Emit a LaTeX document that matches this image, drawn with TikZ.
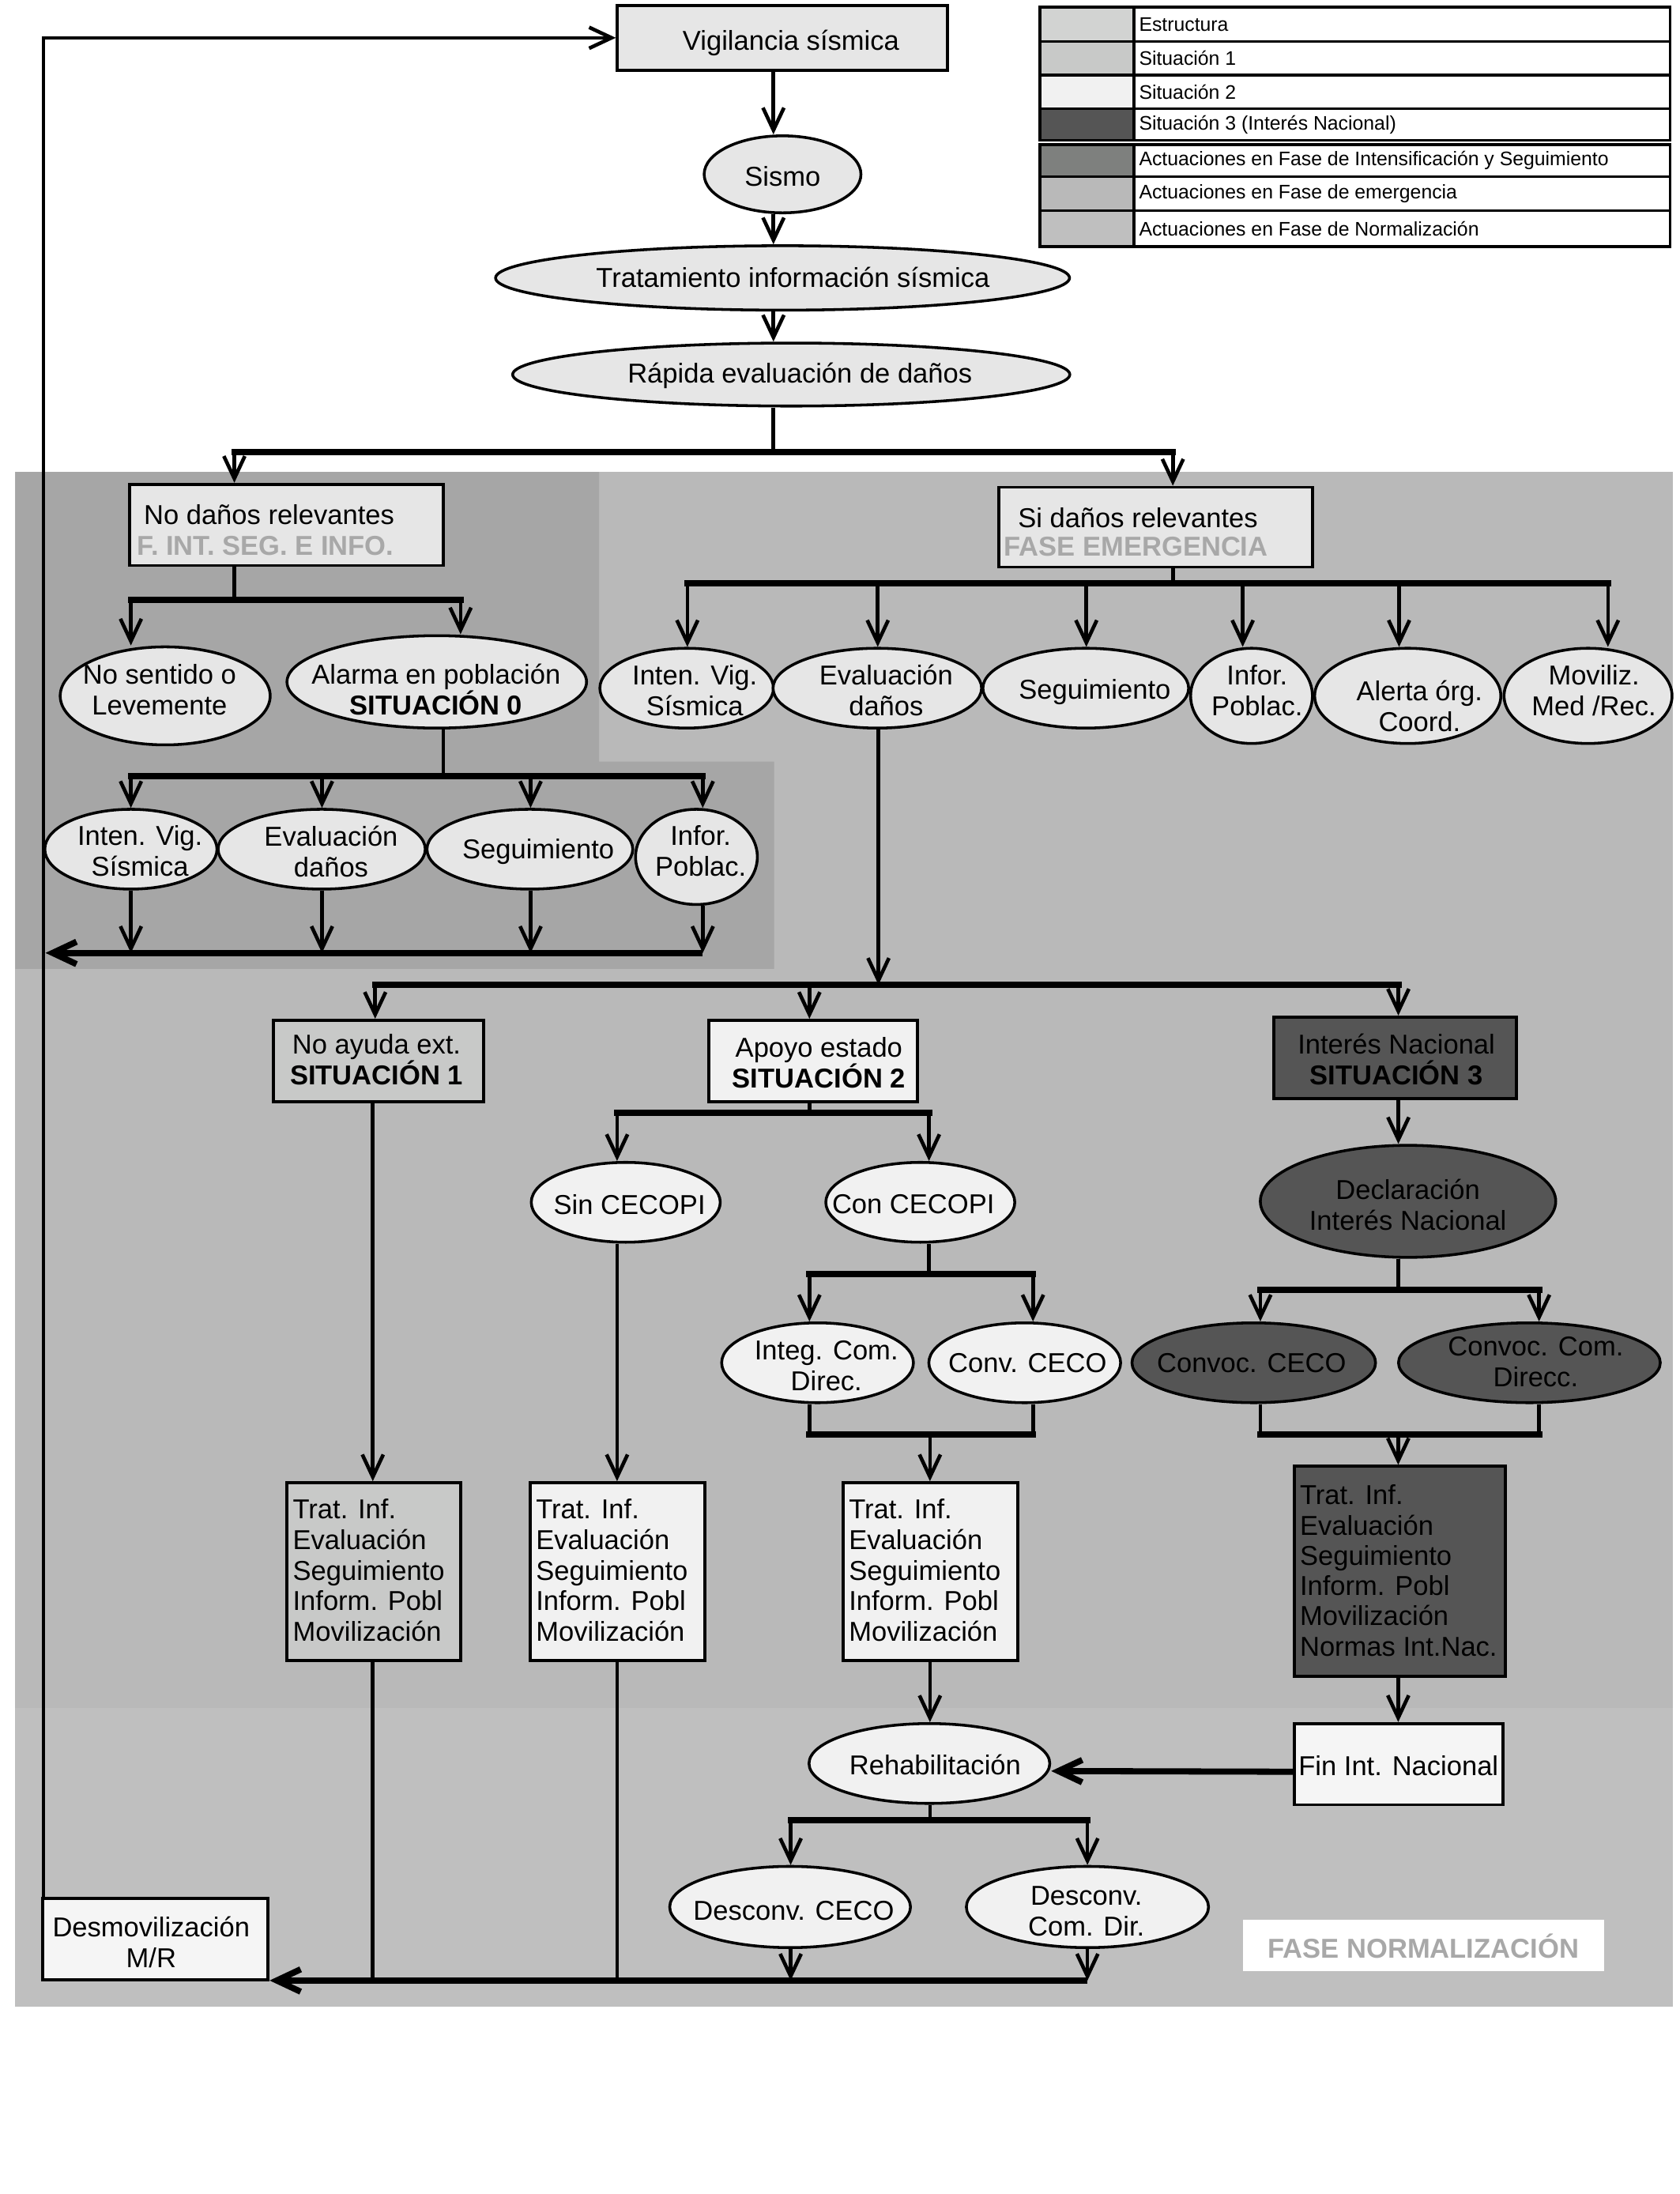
\documentclass[tikz,border=0pt]{standalone}
\usepackage{fontspec}
\setmainfont{Liberation Sans}
\usetikzlibrary{arrows.meta,shapes.geometric}
\definecolor{struc}{HTML}{E6E6E6}
\definecolor{legstruc}{HTML}{D2D3D2}
\definecolor{sitone}{HTML}{C8C9C8}
\definecolor{sittwo}{HTML}{F1F1F1}
\definecolor{sitthree}{HTML}{555555}
\definecolor{intens}{HTML}{7E807E}
\definecolor{emerg}{HTML}{B9B9B9}
\definecolor{normph}{HTML}{BFBFBF}
\definecolor{panint}{HTML}{A6A6A6}
\definecolor{phasetxt}{HTML}{A8A8A8}
\definecolor{offw}{HTML}{F5F5F5}
\begin{document}
\begin{tikzpicture}[x=1pt,y=-1pt,
  box/.style={draw, line width=2.2pt, rectangle, inner sep=0pt},
  ell/.style={draw, line width=2pt, ellipse, inner sep=0pt},
  txt/.style={font=\fontsize{19.5}{22}\selectfont, align=center, inner sep=0pt},
  ltxt/.style={font=\fontsize{19.5}{21.8}\selectfont, align=left, inner sep=0pt, anchor=north west},
  legt/.style={font=\fontsize{14}{16}\selectfont, inner sep=0pt, anchor=west},
  phase/.style={font=\fontsize{19.5}{22}\selectfont\bfseries, text=phasetxt, inner sep=0pt, anchor=west},
  conn/.style={line width=2.6pt},
  bar/.style={line width=4.4pt, line cap=rect},
  arr/.style={line width=2.6pt, -{Straight Barb[length=16pt,width=15pt]}},
  bararr/.style={line width=4.4pt, -{Straight Barb[length=17pt,width=16pt]}},
]
\useasboundingbox (0,0) rectangle (1200,1567);
\fill[white] (0,0) rectangle (1200,1567);
% phase panels
\fill[emerg] (11,337) rectangle (1195,1220);
\fill[normph] (11,1220) rectangle (1195,1433);
\fill[panint] (11,337) -- (428,337) -- (428,544) -- (553,544) -- (553,692) -- (11,692) -- cycle;

% legend
\foreach \ya/\yb/\col in {5/29.5/legstruc, 29.5/53.6/sitone, 53.6/77.5/sittwo, 77.5/100.2/sitthree, 103.4/126/intens, 126/150.6/emerg, 150.6/176/normph} {
  \filldraw[fill=\col, draw=black, line width=1.8pt] (743,\ya) rectangle (810,\yb);
  \draw[line width=1.8pt] (810,\ya) rectangle (1193,\yb);
}
\draw[line width=2.2pt] (743,5) rectangle (1193,100.2);
\draw[line width=2.2pt] (743,103.4) rectangle (1193,176);
\node[legt] (lg1) at (813.5,17.3) {Estructura};
\node[legt] (lg2) at (813.5,41.5) {Situación 1};
\node[legt] (lg3) at (813.5,65.6) {Situación 2};
\node[legt] (lg4) at (813.5,89) {Situación 3 (Interés Nacional)};
\node[legt] (lg5) at (813.5,114.7) {Actuaciones en Fase de Intensificación y Seguimiento};
\node[legt] (lg6) at (813.5,138.3) {Actuaciones en Fase de emergencia};
\node[legt] (lg7) at (813.5,163.3) {Actuaciones en Fase de Normalización};

% top chain
\node[box, fill=struc, minimum width=236pt, minimum height=46pt] (Vig) at (559,27) {};
\node[txt] (tVig) at (565,30.5) {Vigilancia sísmica};
\node[ell, fill=struc, minimum width=112pt, minimum height=55pt] (Sis) at (559,124.5) {};
\node[txt] (tSis) at (559,126) {Sismo};
\node[ell, fill=struc, minimum width=410pt, minimum height=46pt] (Tra) at (559,198.5) {};
\node[txt] (tTra) at (566.4,198) {Tratamiento información sísmica};
\node[ell, fill=struc, minimum width=398pt, minimum height=45pt] (Rap) at (565.2,267.5) {};
\node[txt] (tRap) at (571.4,268.5) {Rápida evaluación de daños};

% No daños branch
\node[box, fill=struc, minimum width=224pt, minimum height=58pt] (NoD) at (204.8,374.9) {};
\node[txt, anchor=west] (tNoD) at (102.6,367.3) {No daños relevantes};
\node[phase] (pNoD) at (97.9,389.6) {F. INT. SEG. E INFO.};
\node[ell, fill=struc, minimum width=150pt, minimum height=70pt] (NoS) at (118,497) {};
\node[txt] (tNoS) at (114,492.5) {No sentido o\\Levemente};
\node[ell, fill=struc, minimum width=214pt, minimum height=66pt] (Ala) at (312,487) {};
\node[txt] (tAla) at (311.5,492.5) {Alarma en población\\\textbf{SITUACIÓN 0}};
\node[ell, fill=struc, minimum width=123pt, minimum height=57pt] (IVb) at (93.5,606.5) {};
\node[txt] (tIVb) at (100,608) {Inten. Vig.\\Sísmica};
\node[ell, fill=struc, minimum width=148pt, minimum height=57pt] (EVb) at (229.8,606.5) {};
\node[txt] (tEVb) at (236.5,608) {Evaluación\\daños};
\node[ell, fill=struc, minimum width=147pt, minimum height=57pt] (SEb) at (378.5,606.5) {};
\node[txt] (tSEb) at (384.5,608.5) {Seguimiento};
\node[ell, fill=struc, minimum width=87pt, minimum height=68pt] (INb) at (497.5,612) {};
\node[txt] (tINb) at (500.5,608) {Infor.\\Poblac.};

% Si daños branch
\node[box, fill=struc, minimum width=224pt, minimum height=57pt] (SiD) at (825.6,376.5) {};
\node[txt, anchor=west] (tSiD) at (727,369.7) {Si daños relevantes};
\node[phase] (pSiD) at (717,390.4) {FASE EMERGENCIA};
\node[ell, fill=struc, minimum width=124pt, minimum height=57pt] (IVa) at (490.5,491.5) {};
\node[txt] (tIVa) at (496.3,493) {Inten. Vig.\\Sísmica};
\node[ell, fill=struc, minimum width=149pt, minimum height=57pt] (EVa) at (626.7,491.5) {};
\node[txt] (tEVa) at (633,493) {Evaluación\\daños};
\node[ell, fill=struc, minimum width=147pt, minimum height=57pt] (SEa) at (775.6,491.5) {};
\node[txt] (tSEa) at (782,494.5) {Seguimiento};
\node[ell, fill=struc, minimum width=87pt, minimum height=68pt] (INa) at (894,497) {};
\node[txt] (tINa) at (898,493) {Infor.\\Poblac.};
\node[ell, fill=struc, minimum width=133pt, minimum height=68pt] (ALa) at (1005.6,497) {};
\node[txt] (tALa) at (1014,504.3) {Alerta órg.\\Coord.};
\node[ell, fill=struc, minimum width=120pt, minimum height=68pt] (MOa) at (1134.4,497) {};
\node[txt] (tMOa) at (1138.6,493) {Moviliz.\\Med /Rec.};

% situations
\node[box, fill=sitone, minimum width=150pt, minimum height=58pt] (S1) at (270.5,757.7) {};
\node[txt] (tS1) at (269,756.6) {No ayuda ext.\\\textbf{SITUACIÓN 1}};
\node[box, fill=sittwo, minimum width=149pt, minimum height=58pt] (S2) at (581,757.7) {};
\node[txt] (tS2) at (585,759) {Apoyo estado\\\textbf{SITUACIÓN 2}};
\node[box, fill=sitthree, minimum width=173pt, minimum height=58pt] (S3) at (996.5,755.4) {};
\node[txt] (tS3) at (997.5,756.6) {Interés Nacional\\\textbf{SITUACIÓN 3}};

\node[ell, fill=sittwo, minimum width=135pt, minimum height=57pt] (SinC) at (447,858.7) {};
\node[txt] (tSinC) at (449.7,860.3) {Sin CECOPI};
\node[ell, fill=sittwo, minimum width=135pt, minimum height=57pt] (ConC) at (657.4,858.7) {};
\node[txt] (tConC) at (652.4,860.3) {Con CECOPI};
\node[ell, fill=sittwo, minimum width=137pt, minimum height=57pt] (Integ) at (584,973.3) {};
\node[txt] (tInteg) at (590.3,975.4) {Integ. Com.\\Direc.};
\node[ell, fill=sittwo, minimum width=137pt, minimum height=57pt] (ConvC) at (732,973.3) {};
\node[txt] (tConvC) at (734,973.7) {Conv. CECO};

\node[ell, fill=sitthree, minimum width=211pt, minimum height=80pt] (Decl) at (1005.8,858) {};
\node[txt] (tDecl) at (1005.7,860.3) {Declaración\\Interés Nacional};
\node[ell, fill=sitthree, minimum width=174pt, minimum height=57pt] (CvC) at (895.6,973.3) {};
\node[txt] (tCvC) at (894,973.3) {Convoc. CECO};
\node[ell, fill=sitthree, minimum width=187pt, minimum height=57pt] (CvD) at (1092.5,973.3) {};
\node[txt] (tCvD) at (1097,972.6) {Convoc. Com.\\Direcc.};

% treatment boxes
\node[box, fill=sitone, minimum width=124pt, minimum height=127pt] (TA) at (267.1,1122.5) {};
\node[ltxt] (tTA) at (209,1070.5) {Trat. Inf.\\Evaluación\\Seguimiento\\Inform. Pobl\\Movilización};
\node[box, fill=sittwo, minimum width=125pt, minimum height=127pt] (TB) at (441.2,1122.5) {};
\node[ltxt] (tTB) at (382.7,1070.5) {Trat. Inf.\\Evaluación\\Seguimiento\\Inform. Pobl\\Movilización};
\node[box, fill=sittwo, minimum width=125pt, minimum height=127pt] (TC) at (664.7,1122.5) {};
\node[ltxt] (tTC) at (606.2,1070.5) {Trat. Inf.\\Evaluación\\Seguimiento\\Inform. Pobl\\Movilización};
\node[box, fill=sitthree, minimum width=151pt, minimum height=150pt] (TD) at (999.9,1122.3) {};
\node[ltxt, font=\fontsize{19.5}{21.6}\selectfont] (tTD) at (928.4,1060.4) {Trat. Inf.\\Evaluación\\Seguimiento\\Inform. Pobl\\Movilización\\Normas Int.Nac.};

% normalization
\node[ell, fill=sittwo, minimum width=172pt, minimum height=57pt] (Reh) at (663.9,1259.5) {};
\node[txt] (tReh) at (668,1260.4) {Rehabilitación};
\node[box, fill=offw, minimum width=149pt, minimum height=58pt] (Fin) at (999.2,1260) {};
\node[txt] (tFin) at (999,1261) {Fin Int. Nacional};
\node[ell, fill=sittwo, minimum width=172pt, minimum height=58pt] (DsC) at (564.4,1362) {};
\node[txt] (tDsC) at (567,1364.4) {Desconv. CECO};
\node[ell, fill=sittwo, minimum width=173pt, minimum height=58pt] (DsD) at (776.8,1362) {};
\node[txt] (tDsD) at (776,1365.3) {Desconv.\\Com. Dir.};
\node[box, fill=offw, minimum width=161pt, minimum height=58pt] (Dsm) at (111,1385) {};
\node[txt] (tDsm) at (108,1387) {Desmovilización\\M/R};
\node[fill=white, minimum width=258pt, minimum height=36.5pt, inner sep=0pt] (FN) at (1016.8,1389.5) {};
\node[phase, anchor=center] (tFN) at (1016.8,1390) {FASE NORMALIZACIÓN};

% ---------- connectors ----------
\coordinate (fbx) at (31,0);
\draw[arr] (Dsm.north -| fbx) |- (Vig.west);
\coordinate (cT) at (552.5,0);
\draw[arr] (Vig.south -| cT) -- (Sis.north -| cT);
\draw[arr] (Sis.south -| cT) -- (Tra.north -| cT);
\draw[arr] (Tra.south -| cT) -- (Rap.north -| cT);

\coordinate (j1) at (552.5,323);
\coordinate (j1l) at (167.4,323);
\coordinate (j1r) at (837.8,323);
\draw[conn] (Rap.south -| j1) -- (j1);
\draw[bar] (j1l) -- (j1r);
\draw[arr] (j1l) -- (j1l |- NoD.north);
\draw[arr] (j1r) -- (j1r |- SiD.north);

\coordinate (j2) at (167.4,428.5);
\coordinate (j2l) at (93.5,428.5);
\coordinate (j2r) at (329,428.5);
\draw[conn] (NoD.south -| j2) -- (j2);
\draw[bar] (j2l) -- (j2r);
\draw[arr] (j2l) -- (j2l |- NoS.north);
\draw[arr] (j2r) -- (j2r |- Ala.north);

\coordinate (j3) at (316.7,554.5);
\coordinate (j3l) at (93.5,554.5);
\coordinate (j3b) at (230,554.5);
\coordinate (j3c) at (379,554.5);
\coordinate (j3r) at (502,554.5);
\draw[conn] (Ala.south -| j3) -- (j3);
\draw[bar] (j3l) -- (j3r);
\draw[arr] (j3l) -- (j3l |- IVb.north);
\draw[arr] (j3b) -- (j3b |- EVb.north);
\draw[arr] (j3c) -- (j3c |- SEb.north);
\draw[arr] (j3r) -- (j3r |- INb.north);

\coordinate (r0) at (32.5,680.6);
\coordinate (r1) at (93.5,680.6);
\coordinate (r2) at (230,680.6);
\coordinate (r3) at (379,680.6);
\coordinate (r4) at (502,680.6);
\draw[arr] (IVb.south -| r1) -- (r1);
\draw[arr] (EVb.south -| r2) -- (r2);
\draw[arr] (SEb.south -| r3) -- (r3);
\draw[arr] (INb.south -| r4) -- (r4);
\draw[bararr] (r4) -- (r0);

\coordinate (j4) at (837.8,416.6);
\coordinate (j4a) at (491,416.6);
\coordinate (j4b) at (627,416.6);
\coordinate (j4c) at (776,416.6);
\coordinate (j4d) at (887.7,416.6);
\coordinate (j4e) at (999.4,416.6);
\coordinate (j4f) at (1148.6,416.6);
\draw[conn] (SiD.south -| j4) -- (j4);
\draw[bar] (j4a) -- (j4f);
\draw[arr] (j4a) -- (j4a |- IVa.north);
\draw[arr] (j4b) -- (j4b |- EVa.north);
\draw[arr] (j4c) -- (j4c |- SEa.north);
\draw[arr] (j4d) -- (j4d |- INa.north);
\draw[arr] (j4e) -- (j4e |- ALa.north);
\draw[arr] (j4f) -- (j4f |- MOa.north);

\coordinate (j5) at (627.5,703.3);
\coordinate (j5a) at (268,703.3);
\coordinate (j5b) at (578.2,703.3);
\coordinate (j5c) at (998.9,703.3);
\draw[arr] (EVa.south -| j5) -- (j5);
\draw[bar] (j5a) -- (j5c);
\draw[arr] (j5a) -- (j5a |- S1.north);
\draw[arr] (j5b) -- (j5b |- S2.north);
\draw[arr] (j5c) -- (j5c |- S3.north);

\coordinate (j6) at (578.2,795);
\coordinate (j6a) at (440.8,795);
\coordinate (j6b) at (663.6,795);
\draw[conn] (S2.south -| j6) -- (j6);
\draw[bar] (j6a) -- (j6b);
\draw[arr] (j6a) -- (j6a |- SinC.north);
\draw[arr] (j6b) -- (j6b |- ConC.north);

\coordinate (j7) at (663.6,910);
\coordinate (j7a) at (578.2,910);
\coordinate (j7b) at (737.9,910);
\draw[conn] (ConC.south -| j7) -- (j7);
\draw[bar] (j7a) -- (j7b);
\draw[arr] (j7a) -- (j7a |- Integ.north);
\draw[arr] (j7b) -- (j7b |- ConvC.north);

\coordinate (m1a) at (578.2,1024.5);
\coordinate (m1b) at (737.9,1024.5);
\coordinate (m1c) at (664.3,1024.5);
\draw[conn] (Integ.south -| m1a) -- (m1a);
\draw[conn] (ConvC.south -| m1b) -- (m1b);
\draw[bar] (m1a) -- (m1b);
\draw[arr] (m1c) -- (m1c |- TC.north);

\coordinate (k0) at (998.9,0);
\draw[arr] (S3.south -| k0) -- (Decl.north -| k0);
\coordinate (k1) at (998.9,921);
\coordinate (k1a) at (900.3,921);
\coordinate (k1b) at (1099.4,921);
\draw[conn] (Decl.south -| k1) -- (k1);
\draw[bar] (k1a) -- (k1b);
\draw[arr] (k1a) -- (k1a |- CvC.north);
\draw[arr] (k1b) -- (k1b |- CvD.north);
\coordinate (m2a) at (900.3,1024.5);
\coordinate (m2b) at (1099.4,1024.5);
\coordinate (m2c) at (998.8,1024.5);
\draw[conn] (CvC.south -| m2a) -- (m2a);
\draw[conn] (CvD.south -| m2b) -- (m2b);
\draw[bar] (m2a) -- (m2b);
\draw[arr] (m2c) -- (m2c |- TD.north);

\coordinate (xa) at (266.3,0);
\coordinate (xb) at (440.8,0);
\coordinate (xc) at (664.3,0);
\coordinate (xd) at (998.8,0);
\draw[arr] (S1.south -| xa) -- (TA.north -| xa);
\draw[arr] (SinC.south -| xb) -- (TB.north -| xb);
\draw[arr] (TC.south -| xc) -- (Reh.north -| xc);
\draw[arr] (TD.south -| xd) -- (Fin.north -| xd);
\draw[bararr] ([yshift=-5.4pt]Fin.west) -- ([yshift=-5.4pt]Reh.east);

\coordinate (j8) at (664.3,1300);
\coordinate (j8a) at (564.8,1300);
\coordinate (j8b) at (776.8,1300);
\draw[conn] (Reh.south -| j8) -- (j8);
\draw[bar] (j8a) -- (j8b);
\draw[arr] (j8a) -- (j8a |- DsC.north);
\draw[arr] (j8b) -- (j8b |- DsD.north);

\coordinate (b1) at (564.8,1414.5);
\coordinate (b2) at (776.8,1414.5);
\draw[arr] (DsC.south -| b1) -- (b1);
\draw[arr] (DsD.south -| b2) -- (b2);
\draw[conn] (TA.south -| xa) -- (xa |- b1);
\draw[conn] (TB.south -| xb) -- (xb |- b1);
\draw[bararr] (b2) -- (b2 -| Dsm.east);
\end{tikzpicture}
\end{document}
